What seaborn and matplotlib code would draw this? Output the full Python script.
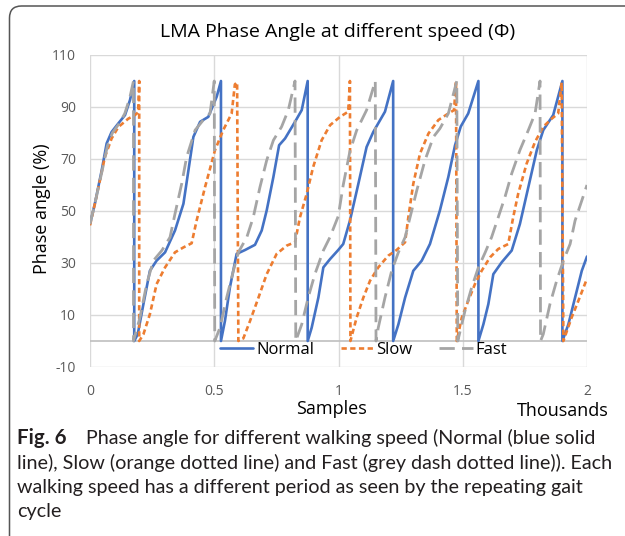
import matplotlib
matplotlib.use("Agg")
import matplotlib.pyplot as plt
from matplotlib.patches import FancyBboxPatch
from matplotlib.lines import Line2D
import seaborn as sns
import pandas as pd

# Phase angle (%) against sample index (thousands) for each walking speed
normal_x = [0, 0.02, 0.047, 0.067, 0.087, 0.114, 0.141, 0.161, 0.178,
            0.178, 0.192, 0.215, 0.241, 0.268, 0.302, 0.342, 0.376, 0.396, 0.416, 0.443, 0.476, 0.51, 0.527,
            0.527, 0.543, 0.563, 0.59, 0.624, 0.664, 0.691, 0.711, 0.738, 0.761, 0.785, 0.825, 0.852, 0.876,
            0.876, 0.892, 0.919, 0.939, 0.966, 0.999, 1.019, 1.046, 1.08, 1.113, 1.14, 1.187, 1.22,
            1.22, 1.241, 1.268, 1.301, 1.335, 1.368, 1.408, 1.442, 1.469, 1.492, 1.522, 1.563,
            1.563, 1.583, 1.603, 1.623, 1.657, 1.697, 1.73, 1.764, 1.798, 1.824, 1.864, 1.901,
            1.901, 1.925, 1.952, 1.979, 2.0]
normal_y = [45, 53, 65.6, 76, 80.4, 83.7, 86.9, 92.7, 100,
            0, 2.6, 14.2, 27, 30.9, 34.1, 42.5, 52.8, 65.6, 78.5, 84.3, 86.2, 94, 100,
            0, 7.7, 20.6, 33.5, 35, 37, 42.5, 50.2, 63.1, 75.3, 77.9, 84.3, 88.8, 100,
            0, 5.1, 16.7, 28.3, 31.5, 35, 37.3, 46.3, 60.5, 74.6, 80.4, 88.2, 100,
            0, 6.4, 16.7, 27, 30.9, 37.3, 50.2, 63.1, 75.3, 82.5, 87.5, 100,
            0, 6.4, 14.2, 25.7, 30.3, 34.8, 45, 59.2, 73.4, 81.1, 86.9, 100,
            0, 6.4, 16.7, 27, 32.5]

slow_x = [0, 0.02, 0.04, 0.06, 0.087, 0.114, 0.154, 0.181, 0.194, 0.198,
          0.198, 0.215, 0.241, 0.268, 0.302, 0.342, 0.376, 0.409, 0.429, 0.463, 0.503, 0.536, 0.57, 0.583, 0.592,
          0.597, 0.605, 0.617, 0.644, 0.678, 0.711, 0.751, 0.792, 0.825, 0.845, 0.872, 0.898, 0.932, 0.966, 1.006, 1.039, 1.046,
          1.048, 1.073, 1.1, 1.127, 1.16, 1.2, 1.234, 1.268, 1.281, 1.301, 1.328, 1.362, 1.402, 1.442, 1.465, 1.473,
          1.476, 1.496, 1.522, 1.549, 1.576, 1.61, 1.643, 1.683, 1.703, 1.723, 1.757, 1.791, 1.824, 1.858, 1.884, 1.898,
          1.905, 1.938, 1.965, 2.0]
slow_y = [44.5, 52.9, 61.8, 70.8, 77.9, 82.3, 85.5, 86.9, 88, 100,
          0, 2.6, 10.3, 21.9, 28.3, 34.1, 36, 37.6, 46.3, 59.2, 73.4, 81.1, 87.5, 98.7, 99.5,
          0, 0.5, 1, 7.7, 16.7, 25.7, 33.5, 36.7, 38, 47.6, 56.6, 66.9, 77.2, 83, 86.2, 88.2, 100,
          0, 9, 16.7, 23.2, 28.3, 32.8, 35, 38, 47.6, 60.5, 72.1, 79.8, 85, 87.5, 88.8, 100,
          0, 9, 15.4, 21.9, 27, 32.2, 35.4, 37.3, 47.6, 56.6, 68.2, 76.6, 82.4, 85.5, 87.5, 99.4,
          0, 9, 15.4, 24]

fast_x = [0, 0.02, 0.05, 0.07, 0.09, 0.12, 0.14, 0.16, 0.175,
          0.175, 0.201, 0.228, 0.255, 0.289, 0.322, 0.342, 0.369, 0.389, 0.423, 0.456, 0.483, 0.5,
          0.502, 0.523, 0.55, 0.577, 0.597, 0.631, 0.657, 0.684, 0.711, 0.738, 0.771, 0.798, 0.825,
          0.828, 0.852, 0.878, 0.905, 0.939, 0.966, 0.999, 1.019, 1.046, 1.073, 1.113, 1.148,
          1.151, 1.16, 1.187, 1.214, 1.241, 1.268, 1.288, 1.315, 1.348, 1.382, 1.408, 1.442, 1.476,
          1.48, 1.509, 1.536, 1.563, 1.59, 1.616, 1.643, 1.67, 1.697, 1.73, 1.764, 1.791, 1.811,
          1.813, 1.824, 1.851, 1.878, 1.905, 1.932, 1.952, 1.979, 2.0]
fast_y = [45, 53, 66, 75, 80, 84, 87.5, 93.5, 100,
          0, 9, 21.9, 30.9, 34.8, 39.9, 48.9, 60.5, 70.8, 81.1, 85, 87.5, 100,
          0, 5.1, 16.7, 27, 34.1, 39.9, 47.6, 59.2, 69.5, 77.2, 82.4, 88.8, 100,
          0, 6.4, 16.7, 25.7, 34.8, 40, 48, 60, 73, 81, 88.8, 100,
          0, 5.1, 16.7, 27, 34.1, 39.9, 47.6, 57.9, 69.5, 78.5, 81.7, 87.5, 100,
          0, 11.6, 20.6, 28.3, 34, 39.9, 47.6, 55.4, 64.4, 73.4, 81.1, 87.5, 100,
          0, 2.6, 14.2, 23.2, 30.9, 37.3, 46.3, 54, 60]

series_names = ["Normal", "Slow", "Fast"]
series_colors = ["#4472C4", "#ED7D31", "#A5A5A5"]
y_ticks = [-10, 10, 30, 50, 70, 90, 110]
x_ticks = [0, 0.5, 1, 1.5, 2]
x_tick_labels = ["0", "0.5", "1", "1.5", "2"]

title = "LMA Phase Angle at different speed (\u03a6)"
caption_lines = [
    "Phase angle for different walking speed (Normal (blue solid",
    "line), Slow (orange dotted line) and Fast (grey dash dotted line)). Each",
    "walking speed has a different period as seen by the repeating gait",
    "cycle",
]

sns.set_theme(style="white")
plt.rcParams["font.family"] = ["Open Sans", "DejaVu Sans"]
plt.rcParams["axes.unicode_minus"] = False

W, H = 625, 536
fig = plt.figure(figsize=(W / 100, H / 100), dpi=100)
ax = fig.add_axes([90 / W, 1 - 367 / H, 497 / W, 312 / H])

frames = [
    pd.DataFrame({"x": normal_x, "y": normal_y}),
    pd.DataFrame({"x": slow_x, "y": slow_y}),
    pd.DataFrame({"x": fast_x, "y": fast_y}),
]
styles = [
    dict(lw=1.9, linestyle="-"),
    dict(lw=1.9, linestyle=(0, (2.0, 1.3))),
    dict(lw=2.0, linestyle=(0, (5.5, 2.6))),
]
for df, name, col, st in zip(frames, series_names, series_colors, styles):
    sns.lineplot(data=df, x="x", y="y", estimator=None, sort=False, ax=ax,
                 color=col, label=name, zorder=3, **st)

ax.set_xlim(0, 2)
ax.set_ylim(-10, 110)
ax.set_yticks(y_ticks)
ax.set_xticks(x_ticks)
ax.set_xticklabels(x_tick_labels)
ax.grid(True, color="#D9D9D9", lw=1.0)
ax.axhline(0, color="#BFBFBF", lw=1.2, zorder=2)
for s in ax.spines.values():
    s.set_visible(False)
ax.tick_params(axis="both", length=0, labelsize=10, labelcolor="#595959")
ax.tick_params(axis="y", pad=10)
ax.tick_params(axis="x", pad=12)
ax.set_xlabel("")
ax.set_ylabel("")

ax.legend(handles=[Line2D([], [], color=c, **st) for c, st in zip(series_colors, styles)],
          labels=series_names, loc="center", bbox_to_anchor=(0.55, 0.055), ncol=3,
          frameon=False, fontsize=12, handlelength=2.0, handletextpad=0.15,
          columnspacing=1.6, borderpad=0, labelcolor="#000000")

fig.text(338 / W, 1 - 32 / H, title, ha="center", va="center", fontsize=14, color="#000000")
fig.text(42 / W, 1 - 209 / H, "Phase angle (%)", ha="center", va="center",
         rotation=90, fontsize=13, color="#000000")
fig.text(331 / W, 1 - 409 / H, "Samples", ha="center", va="center", fontsize=13, color="#000000")
fig.text(563 / W, 1 - 411 / H, "Thousands", ha="center", va="center", fontsize=13, color="#000000")

# caption below the chart
cap_font = ["Lato", "DejaVu Sans"]
cap_size = 14.2
cap_y = [438, 463, 487, 512]
fig.text(17 / W, 1 - cap_y[0] / H, "Fig. 6", ha="left", va="center", fontsize=cap_size + 0.6,
         fontweight="bold", family=cap_font, color="#231F20")
fig.text(86 / W, 1 - cap_y[0] / H, caption_lines[0], ha="left", va="center", fontsize=cap_size,
         family=cap_font, color="#231F20")
for line, yy in zip(caption_lines[1:], cap_y[1:]):
    fig.text(17 / W, 1 - yy / H, line, ha="left", va="center", fontsize=cap_size,
             family=cap_font, color="#231F20")

# rounded frame open at the right and bottom
frame = FancyBboxPatch((9.5 / 100, -0.3), 7.0, (H - 6) / 100 + 0.3,
                       boxstyle="round,pad=0,rounding_size=0.12",
                       transform=fig.dpi_scale_trans, fill=False,
                       edgecolor="#555555", lw=1.1, clip_on=False)
fig.patches.append(frame)

fig.savefig("out.png", dpi=100, facecolor="white")
